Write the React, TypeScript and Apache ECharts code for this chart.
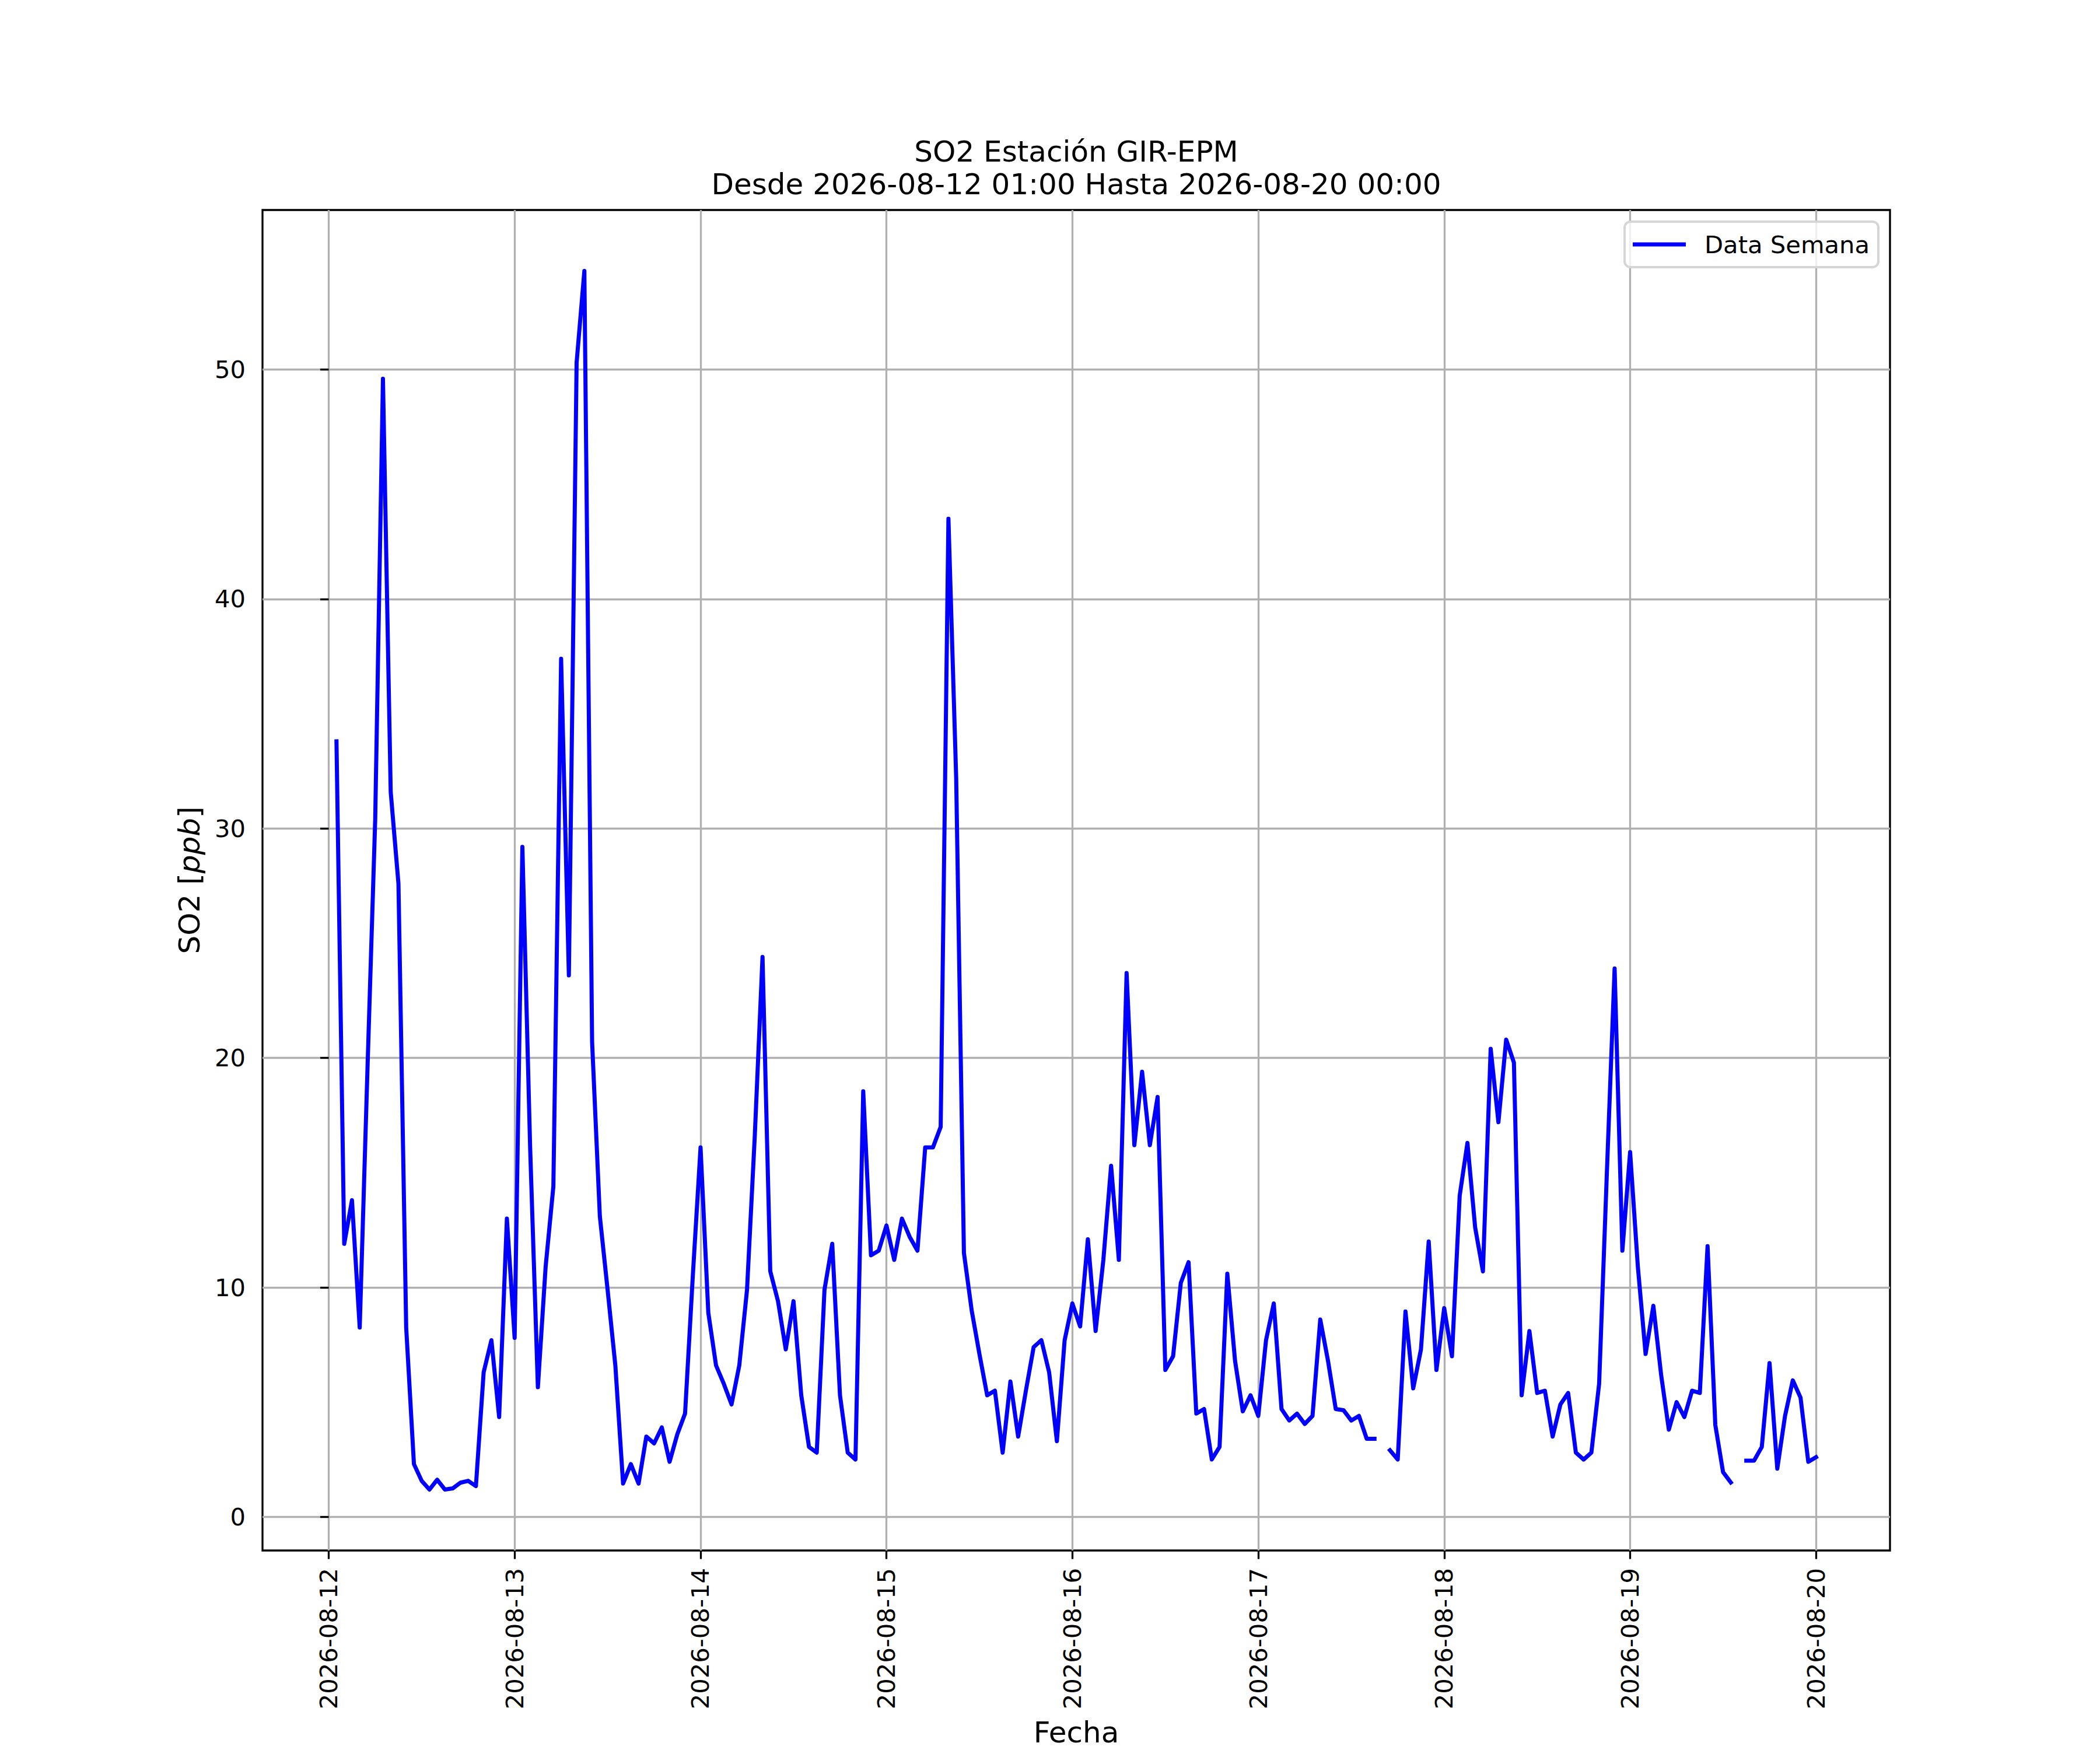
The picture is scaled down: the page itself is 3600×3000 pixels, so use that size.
import React, { useEffect, useRef } from "react";
import * as echarts from "echarts";

const FONT = "DejaVu Sans";

const titleLine1 = "SO2 Estación GIR-EPM";
const titleLine2 = "Desde 2026-08-12 01:00 Hasta 2026-08-20 00:00";
const seriesName = "Data Semana";
const xName = "Fecha";

const dayLabels = [
  "2026-08-12",
  "2026-08-13",
  "2026-08-14",
  "2026-08-15",
  "2026-08-16",
  "2026-08-17",
  "2026-08-18",
  "2026-08-19",
  "2026-08-20",
];
const tickHours = [0, 24, 48, 72, 96, 120, 144, 168, 192];
const yTicks = [0, 10, 20, 30, 40, 50];

// Hourly SO2 values, 01:00 .. 24:00 of each day (null = missing)
const day12 = [33.8, 11.9, 13.8, 8.25, 19.5, 30.4, 49.6, 31.6, 27.6, 8.25, 2.3, 1.57, 1.19, 1.62, 1.19, 1.24, 1.49, 1.57, 1.34, 6.3, 7.7, 4.35, 13.0, 7.8];
const day13 = [29.2, 16.1, 5.65, 10.9, 14.4, 37.4, 23.6, 50.3, 54.3, 20.7, 13.1, 9.9, 6.6, 1.45, 2.3, 1.45, 3.5, 3.2, 3.9, 2.4, 3.6, 4.5, 10.5, 16.1];
const day14 = [8.9, 6.6, 5.8, 4.9, 6.6, 9.9, 16.6, 24.4, 10.7, 9.4, 7.3, 9.4, 5.3, 3.05, 2.8, 9.9, 11.9, 5.3, 2.8, 2.5, 18.55, 11.4, 11.6, 12.7];
const day15 = [11.2, 13.0, 12.2, 11.6, 16.1, 16.1, 17.0, 43.5, 32.2, 11.5, 9.0, 7.1, 5.3, 5.5, 2.8, 5.9, 3.5, 5.5, 7.4, 7.7, 6.3, 3.3, 7.7, 9.3];
const day16 = [8.3, 12.1, 8.1, 11.2, 15.3, 11.2, 23.7, 16.2, 19.4, 16.2, 18.3, 6.4, 7.0, 10.2, 11.1, 4.5, 4.7, 2.5, 3.05, 10.6, 6.8, 4.6, 5.3, 4.4];
const day17 = [7.7, 9.3, 4.7, 4.2, 4.5, 4.05, 4.4, 8.6, 6.8, 4.7, 4.65, 4.2, 4.4, 3.4, 3.4, null, 2.9, 2.5, 8.95, 5.6, 7.3, 12.0, 6.4, 9.1];
const day18 = [7.0, 14.0, 16.3, 12.6, 10.7, 20.4, 17.2, 20.8, 19.8, 5.3, 8.1, 5.4, 5.5, 3.5, 4.9, 5.4, 2.8, 2.5, 2.8, 5.8, 15.0, 23.9, 11.6, 15.9];
const day19 = [10.9, 7.1, 9.2, 6.2, 3.8, 5.0, 4.35, 5.5, 5.4, 11.8, 4.0, 1.95, 1.5, null, 2.45, 2.45, 3.05, 6.7, 2.1, 4.4, 5.95, 5.2, 2.4, 2.6];

const days = [day12, day13, day14, day15, day16, day17, day18, day19];

export default function App() {
  const ref = useRef<HTMLDivElement>(null);

  useEffect(() => {
    document.documentElement.style.margin = "0";
    document.body.style.margin = "0";
    if (!ref.current) return;
    const chart = echarts.init(ref.current, undefined, { renderer: "svg" });

    const data: any[] = [];
    const vals: number[] = [];
    days.forEach((arr, d) => {
      arr.forEach((v, i) => {
        const h = d * 24 + i + 1;
        data.push([h, v === null ? "-" : v]);
        if (v !== null) vals.push(v);
      });
    });
    const hMin = 1;
    const hMax = days.length * 24;
    const xPad = 0.05 * (hMax - hMin);
    const vMin = Math.min(...vals);
    const vMax = Math.max(...vals);
    const yPad = 0.05 * (vMax - vMin);

    const tickStyle = { color: "#000", width: 3.3 };
    const gridStyle = { color: "#b0b0b0", width: 3.3 };

    chart.setOption({
      animation: false,
      backgroundColor: "#ffffff",
      title: {
        text: titleLine1 + "\n" + titleLine2,
        left: 1845,
        top: 232,
        textAlign: "center",
        padding: 0,
        textStyle: {
          fontFamily: FONT,
          fontSize: 50,
          fontWeight: "normal",
          color: "#000",
          lineHeight: 56,
        },
      },
      legend: {
        left: 2785,
        top: 380,
        orient: "horizontal",
        padding: [18, 15, 18, 14],
        itemWidth: 91,
        itemHeight: 7,
        itemGap: 0,
        backgroundColor: "rgba(255,255,255,0.8)",
        borderColor: "#d6d6d6",
        borderWidth: 4,
        borderRadius: 10,
        textStyle: {
          fontFamily: FONT,
          fontSize: 41.7,
          color: "#000",
          padding: [0, 0, 0, 27],
          lineHeight: 41,
        },
        data: [{ name: seriesName, icon: "rect" }],
      },
      grid: {
        left: 450,
        right: 360,
        top: 360,
        bottom: 330,
        show: true,
        borderColor: "#000",
        borderWidth: 3.3,
        backgroundColor: "transparent",
        containLabel: false,
      },
      xAxis: {
        type: "value",
        min: hMin - xPad,
        max: hMax + xPad,
        axisLine: { show: false, onZero: false },
        axisTick: { show: true, length: 14.6, lineStyle: tickStyle, customValues: tickHours },
        axisLabel: {
          customValues: tickHours,
          rotate: 90,
          margin: 30,
          fontFamily: FONT,
          fontSize: 41.7,
          color: "#000",
          formatter: (v: number) => dayLabels[Math.round(v / 24)] ?? "",
        },
        splitLine: { show: true, lineStyle: gridStyle },
        name: xName,
        nameLocation: "middle",
        nameGap: 287,
        nameTextStyle: { fontFamily: FONT, fontSize: 50, color: "#000" },
      },
      yAxis: {
        type: "value",
        min: vMin - yPad,
        max: vMax + yPad,
        axisLine: { show: false },
        axisTick: { show: true, length: 14.6, lineStyle: tickStyle, customValues: yTicks },
        axisLabel: {
          customValues: yTicks,
          margin: 29,
          fontFamily: FONT,
          fontSize: 41.7,
          color: "#000",
        },
        splitLine: { show: true, lineStyle: gridStyle },
        name: "{a|SO2 [}{b|ppb}{a|]}",
        nameLocation: "middle",
        nameRotate: 90,
        nameGap: 100,
        nameTextStyle: {
          rich: {
            a: { fontFamily: FONT, fontSize: 50, color: "#000" },
            b: { fontFamily: FONT, fontSize: 50, color: "#000", fontStyle: "italic" },
          },
        },
      },
      series: [
        {
          name: seriesName,
          type: "line",
          data,
          showSymbol: false,
          symbol: "none",
          connectNulls: false,
          itemStyle: { color: "#0000ff" },
          lineStyle: { color: "#0000ff", width: 7, cap: "square", join: "round" },
        },
      ],
    });

    return () => chart.dispose();
  }, []);

  return (
    <>
      <style>{"html,body{margin:0;padding:0;overflow:hidden;}"}</style>
      <div
        ref={ref}
        style={{ position: "absolute", left: 0, top: 0, width: 3600, height: 3000 }}
      />
    </>
  );
}
